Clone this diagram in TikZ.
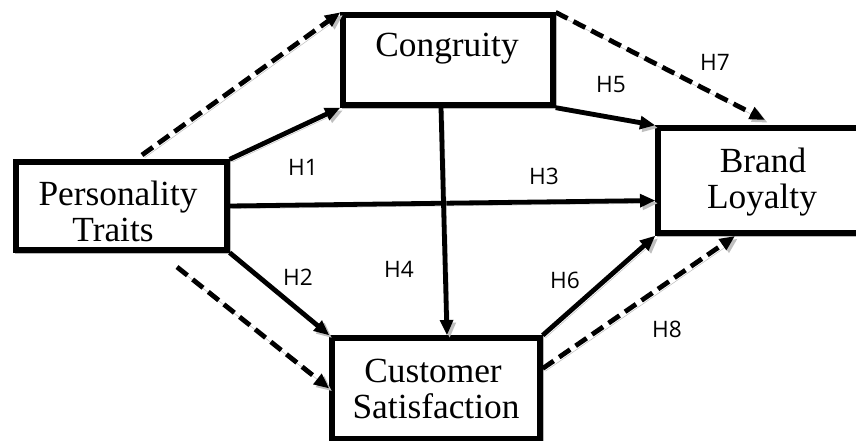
\documentclass[tikz,border=0pt]{standalone}
\usepackage{fontspec}
\setmainfont{Liberation Serif}
\newfontfamily\labfont{Open Sans}
\usetikzlibrary{arrows.meta,calc}
\begin{document}
\begin{tikzpicture}[x=0.75pt,y=-0.75pt,
  box/.style={draw=black, fill=white, line width=4pt, inner sep=0pt,
    preaction={draw=gray!55, line width=4pt, transform canvas={shift={(1pt,-1pt)}}}},
  boxtext/.style={anchor=base, inner sep=0pt, font=\fontsize{26.5}{30}\selectfont},
  lab/.style={anchor=base, inner sep=0pt, font=\labfont\fontsize{17}{20}\selectfont},
  arr/.style={line width=3.6pt, -{Triangle[length=11.5pt,width=9.5pt]},
    preaction={draw=gray!50, transform canvas={shift={(2pt,-2pt)}}}},
  dsh/.style={arr, dash pattern=on 10pt off 5pt}]
\useasboundingbox (0,0) rectangle (856,441);
\clip (0,0) rectangle (856,441);
% boxes
\node[box, minimum width=158.25pt, minimum height=66pt] (pt) at (121.5,206) {};
\node[box, minimum width=157.5pt, minimum height=67.5pt] (cong) at (448,60) {};
\node[box, minimum width=159pt, minimum height=78.75pt] (bl) at (764,180.5) {};
\node[box, minimum width=156pt, minimum height=75.75pt] (cs) at (436,388.5) {};
% box texts
\node[boxtext] (ptA) at (118,206) {Personality};
\node[boxtext] (ptB) at (113,242) {Traits};
\node[boxtext] (congA) at (447,57) {Congruity};
\node[boxtext] (blA) at (763,173) {Brand};
\node[boxtext] (blB) at (762,209) {Loyalty};
\node[boxtext] (csA) at (433,382) {Customer};
\node[boxtext] (csB) at (436,418) {Satisfaction};
% free ends
\coordinate (d1s) at (142,155);
\coordinate (d7e) at (765,120);
\coordinate (d2s) at (177,267);
\coordinate (d8e) at (735,236);
\coordinate (h3e) at ($(bl.west)+(0,20)$);
\coordinate (h4s) at ($(cong.south)+(-7,0)$);
\coordinate (h4e) at ($(cs.north)+(11,0)$);
\coordinate (d8s) at ($(cs.east)+(0,-20)$);
% connectors
\draw[dsh] (d1s) -- (cong.north west);
\draw[arr] (pt.north east) -- (cong.south west);
\draw[dsh] (cong.north east) -- (d7e);
\draw[arr] (cong.south east) -- (bl.north west);
\draw[arr] (pt.east) -- (h3e);
\draw[arr] (h4s) -- (h4e);
\draw[arr] (pt.south east) -- (cs.north west);
\draw[dsh] (d2s) -- (cs.west);
\draw[arr] (cs.north east) -- (bl.south west);
\draw[dsh] (d8s) -- (d8e);
% labels
\node[lab] (H1) at (303,176) {H1};
\node[lab] (H2) at (298,286) {H2};
\node[lab] (H3) at (544,185) {H3};
\node[lab] (H4) at (399,278) {H4};
\node[lab] (H5) at (611,93) {H5};
\node[lab] (H6) at (565,289) {H6};
\node[lab] (H7) at (715,71) {H7};
\node[lab] (H8) at (667,338) {H8};
\end{tikzpicture}
\end{document}
